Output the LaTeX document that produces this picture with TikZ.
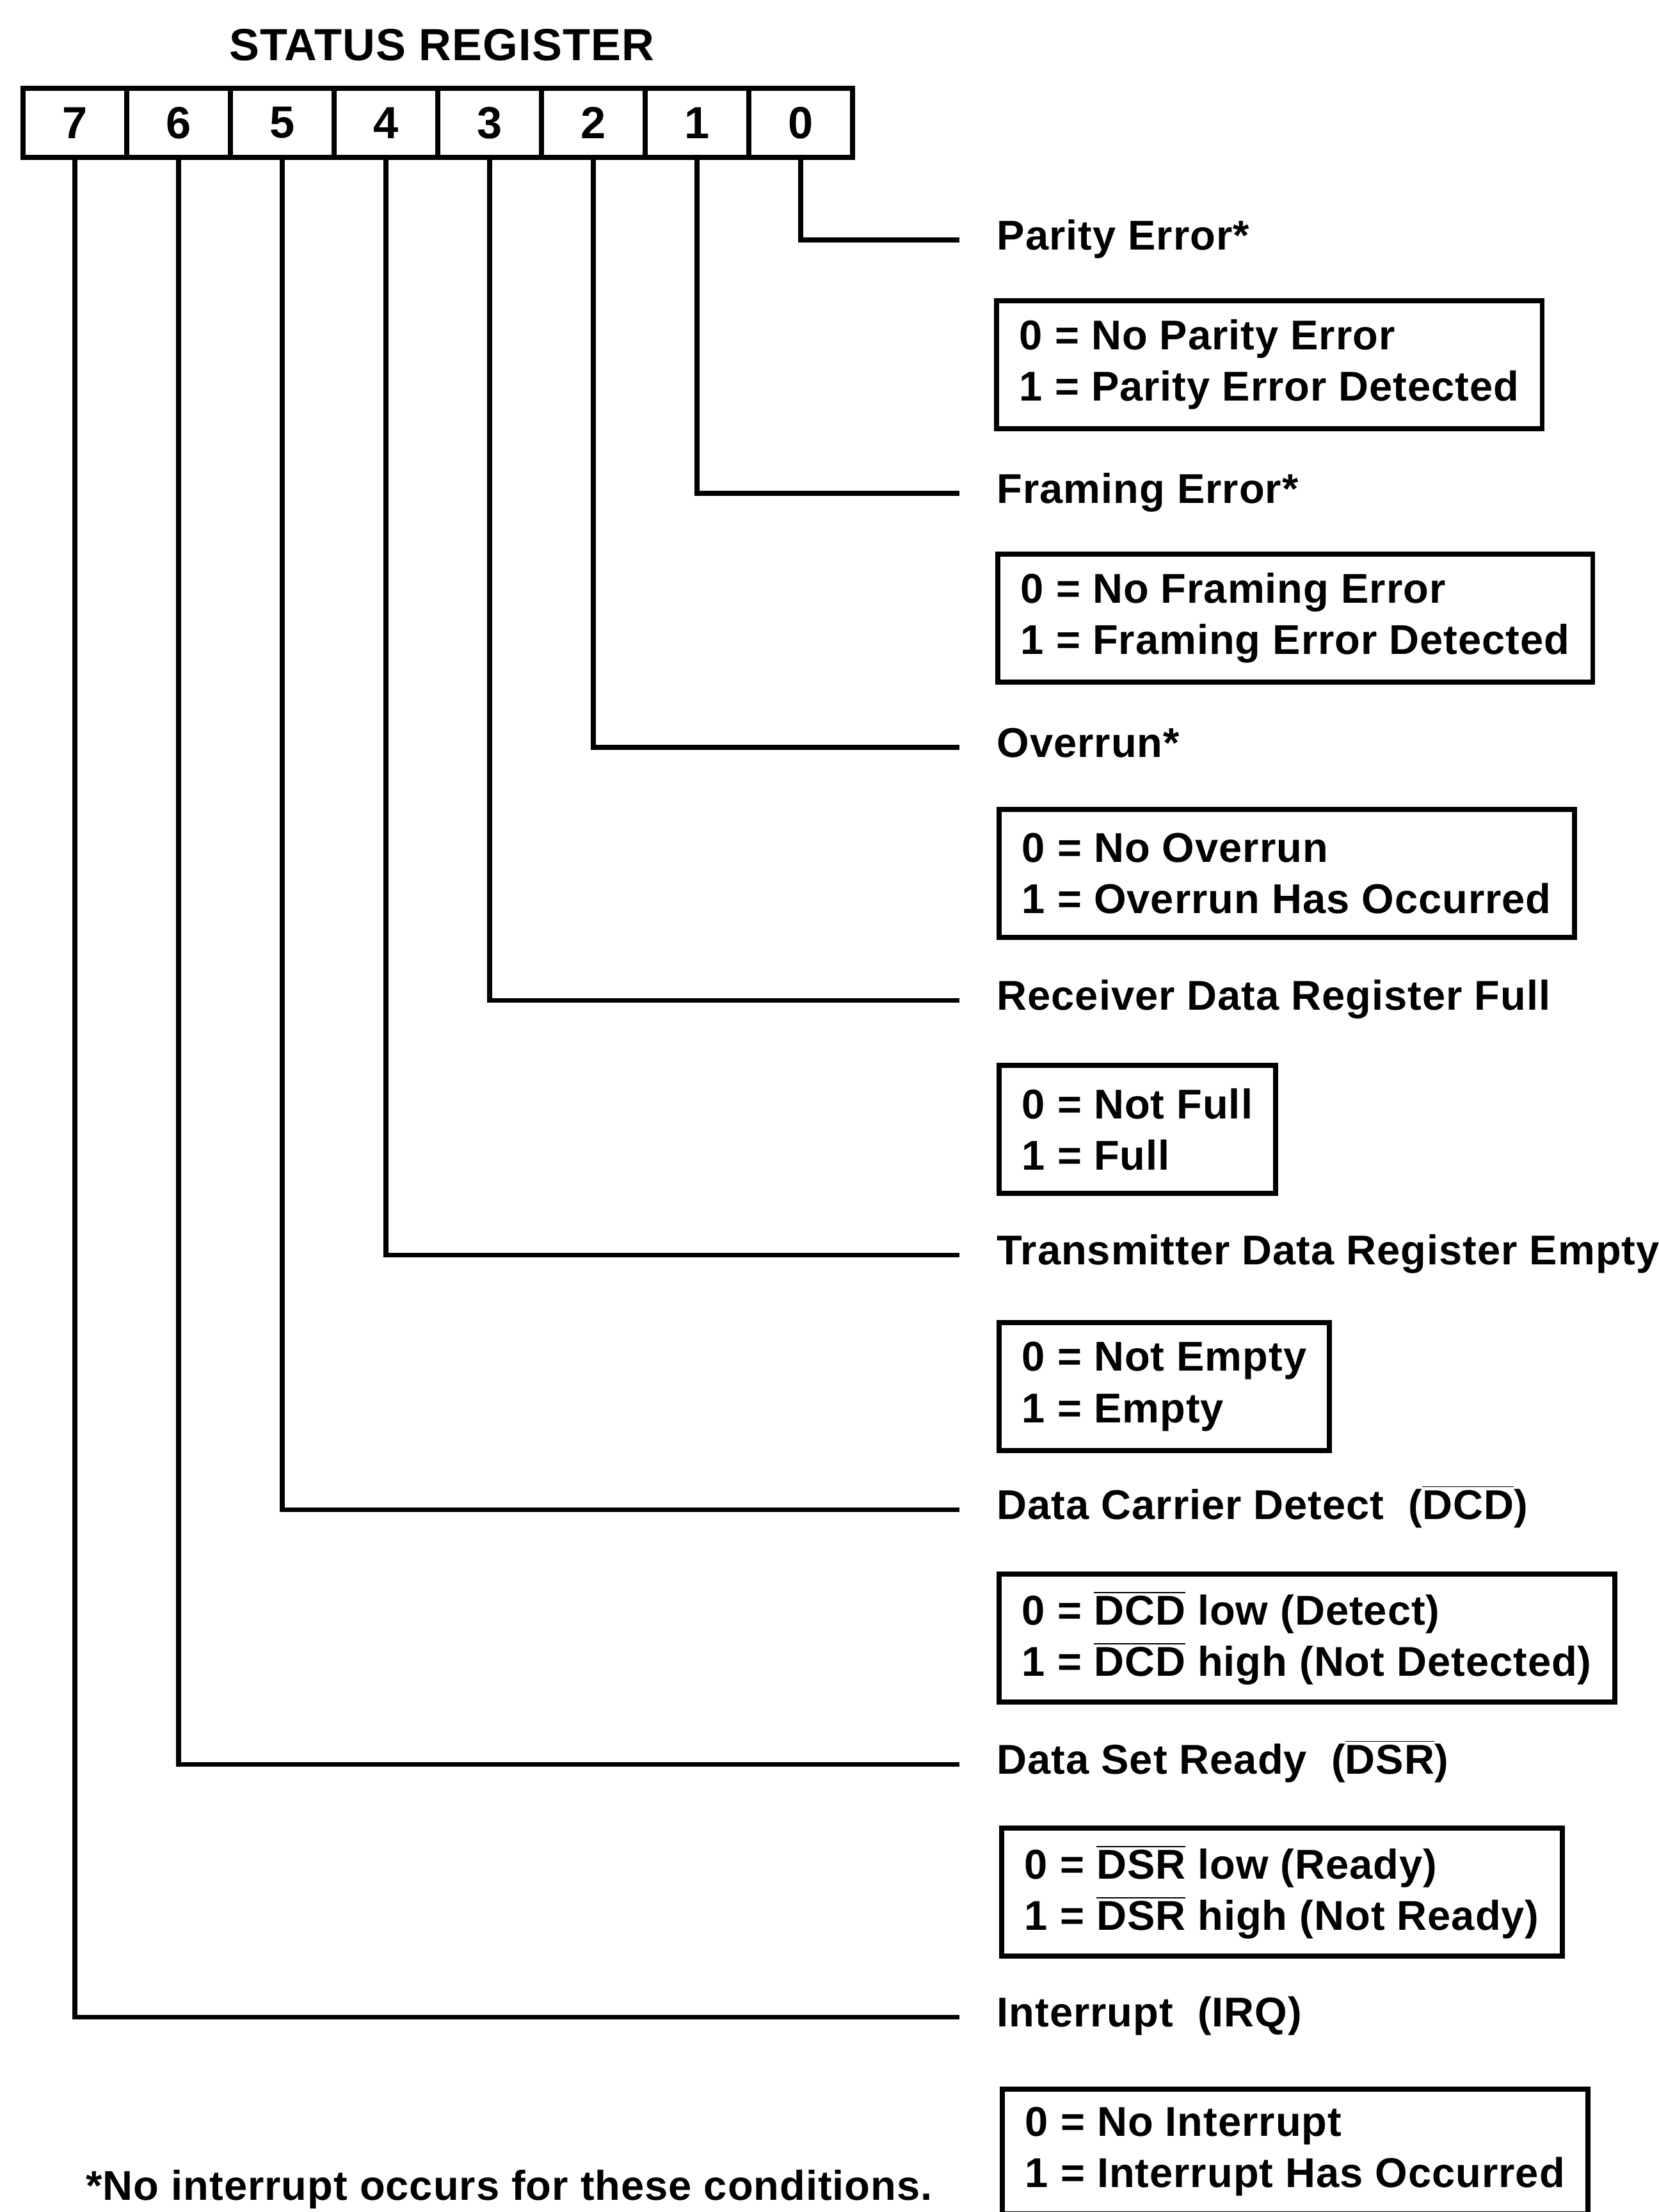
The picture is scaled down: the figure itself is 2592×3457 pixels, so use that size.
\documentclass[tikz,border=0pt]{standalone}
\usepackage{fontspec}
\setmainfont{Liberation Sans}[LetterSpace=1.5]
\usetikzlibrary{positioning}
\newcommand{\nsig}[1]{$\overline{\mbox{#1}}$}
\tikzset{
  bitcell/.style={draw, line width=2.4pt, minimum width=1.62cm, minimum height=1.08cm, inner sep=0pt, font=\fontsize{20}{24}\selectfont\bfseries},
  wire/.style={line width=2pt, shorten >=0.58cm},
  flag/.style={anchor=west, inner sep=0pt, text height=0.42cm, text depth=0.12cm, font=\fontsize{18.5}{22.8}\selectfont\bfseries},
  valbox/.style={draw, line width=2.2pt, anchor=north west, align=left, inner xsep=0.36cm, inner ysep=0pt, minimum height=2cm, font=\fontsize{18.5}{22.8}\selectfont\bfseries},
  note/.style={anchor=base west, inner sep=0pt, font=\fontsize{18.5}{22.8}\selectfont\bfseries}
}

\begin{document}
\begin{tikzpicture}[x=0.01cm,y=-0.01cm]
  \useasboundingbox (0,0) rectangle (2592,3457);

  \node[anchor=base, inner sep=0pt, font=\fontsize{20}{24}\selectfont\bfseries] (title) at (690,94) {STATUS REGISTER};

  % register cells, bit 7 on the left
  \foreach \b [count=\k from 0] in {7,6,5,4,3,2,1,0}
    \node[bitcell] (b\b) at ({117+162*\k},192) {\b};

  % bit names
  \node[flag] (lbl0) at (1557,375)  {Parity Error*};
  \node[flag] (lbl1) at (1557,771)  {Framing Error*};
  \node[flag] (lbl2) at (1557,1168) {Overrun*};
  \node[flag] (lbl3) at (1557,1563) {Receiver Data Register Full};
  \node[flag] (lbl4) at (1557,1961) {Transmitter Data Register Empty};
  \node[flag] (lbl5) at (1557,2359) {Data Carrier Detect\ \ (\nsig{DCD})};
  \node[flag] (lbl6) at (1557,2757) {Data Set Ready\ \ (\nsig{DSR})};
  \node[flag] (lbl7) at (1557,3152) {Interrupt\ \ (IRQ)};

  % meaning of 0 and 1
  \node[valbox] (val0) at (1553,466)  {0 = No Parity Error\\1 = Parity Error Detected};
  \node[valbox] (val1) at (1555,862)  {0 = No Framing Error\\1 = Framing Error Detected};
  \node[valbox] (val2) at (1557,1261) {0 = No Overrun\\1 = Overrun Has Occurred};
  \node[valbox] (val3) at (1557,1661) {0 = Not Full\\1 = Full};
  \node[valbox] (val4) at (1557,2063) {0 = Not Empty\\1 = Empty};
  \node[valbox] (val5) at (1557,2456) {0 = \nsig{DCD} low (Detect)\\1 = \nsig{DCD} high (Not Detected)};
  \node[valbox] (val6) at (1561,2853) {0 = \nsig{DSR} low (Ready)\\1 = \nsig{DSR} high (Not Ready)};
  \node[valbox, minimum height=1.95cm] (val7) at (1562,3261) {0 = No Interrupt\\1 = Interrupt Has Occurred};

  \foreach \b in {0,...,7}
    \draw[wire] (b\b.south) |- (lbl\b.west);

  \node[note] (foot) at (134,3438) {*No interrupt occurs for these conditions.};
\end{tikzpicture}
\end{document}
